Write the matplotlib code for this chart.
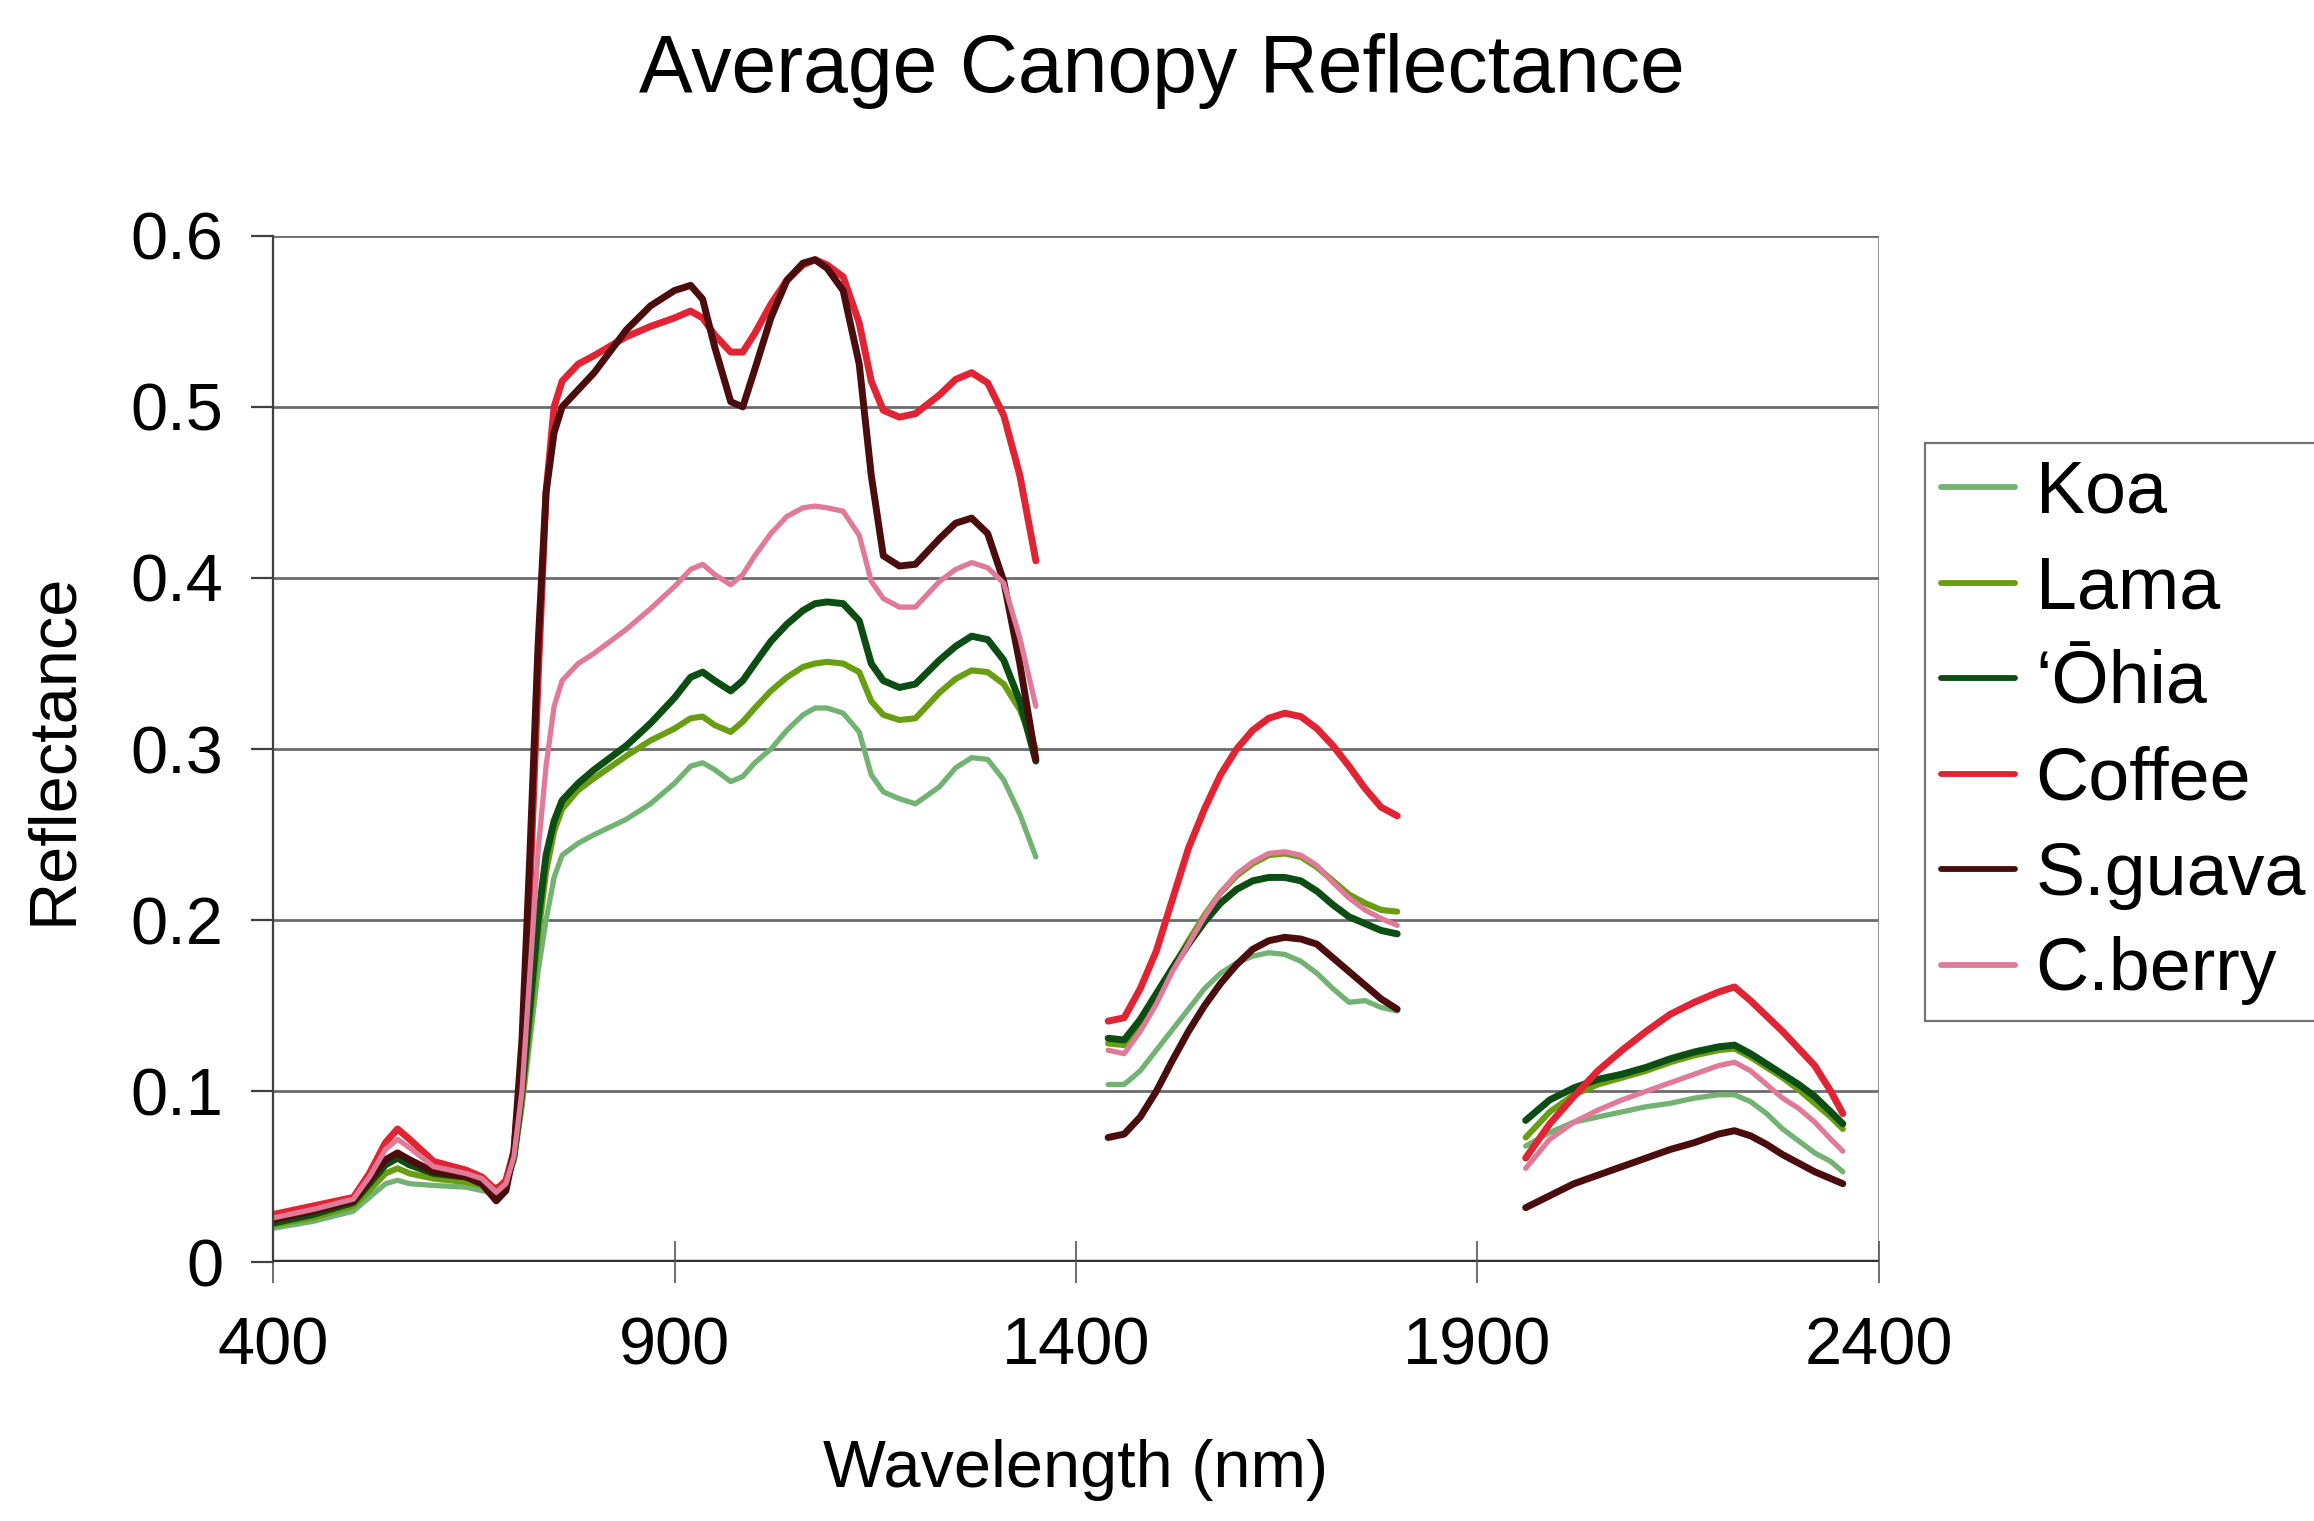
import matplotlib
matplotlib.use("Agg")
import matplotlib.pyplot as plt

plt.rcParams['font.family'] = ['Liberation Sans', 'DejaVu Sans']

# ---- data ----
species = ["Koa", "Lama", "\u2018\u014chia", "Coffee", "S.guava", "C.berry"]
colors = ["#72b272", "#6a9e12", "#0b4d12", "#e02434", "#4a0c0c", "#e07a98"]

w1 = [400, 450, 500, 520, 540, 555, 570, 600, 640, 660, 678, 690, 700, 710, 720,
      730, 740, 750, 760, 780, 800, 840, 870, 900, 920, 935, 950, 970, 985, 1000,
      1020, 1040, 1060, 1075, 1090, 1110, 1130, 1145, 1160, 1180, 1200, 1230, 1250,
      1270, 1290, 1310, 1330, 1350]
w2 = [1440, 1460, 1480, 1500, 1520, 1540, 1560, 1580, 1600, 1620, 1640, 1660, 1680,
      1700, 1720, 1740, 1760, 1780, 1800]
w3 = [1960, 1990, 2020, 2050, 2080, 2110, 2140, 2170, 2200, 2220, 2240, 2260, 2280,
      2300, 2320, 2340, 2355]

koa_1 = [0.020, 0.024, 0.030, 0.038, 0.046, 0.048, 0.046, 0.045, 0.044, 0.042, 0.040,
         0.045, 0.060, 0.090, 0.130, 0.170, 0.200, 0.225, 0.238, 0.245, 0.250, 0.259,
         0.268, 0.280, 0.290, 0.292, 0.288, 0.281, 0.284, 0.292, 0.300, 0.311, 0.320,
         0.324, 0.324, 0.321, 0.310, 0.285, 0.275, 0.271, 0.268, 0.278, 0.289, 0.295,
         0.294, 0.282, 0.262, 0.237]
lama_1 = [0.022, 0.026, 0.033, 0.042, 0.052, 0.055, 0.052, 0.049, 0.047, 0.045, 0.042,
          0.046, 0.060, 0.095, 0.140, 0.190, 0.228, 0.252, 0.265, 0.276, 0.283, 0.296,
          0.305, 0.312, 0.318, 0.319, 0.314, 0.310, 0.316, 0.324, 0.334, 0.342, 0.348,
          0.350, 0.351, 0.350, 0.345, 0.328, 0.320, 0.317, 0.318, 0.333, 0.341, 0.346,
          0.345, 0.338, 0.323, 0.300]
ohia_1 = [0.023, 0.028, 0.035, 0.046, 0.057, 0.061, 0.057, 0.052, 0.050, 0.047, 0.043,
          0.047, 0.062, 0.100, 0.150, 0.200, 0.238, 0.258, 0.270, 0.280, 0.288, 0.302,
          0.315, 0.330, 0.342, 0.345, 0.340, 0.334, 0.340, 0.350, 0.363, 0.373, 0.381,
          0.385, 0.386, 0.385, 0.375, 0.350, 0.340, 0.336, 0.338, 0.352, 0.360, 0.366,
          0.364, 0.352, 0.328, 0.293]
coffee_1 = [0.028, 0.033, 0.038, 0.052, 0.070, 0.078, 0.072, 0.059, 0.054, 0.050, 0.042,
            0.048, 0.065, 0.120, 0.220, 0.340, 0.450, 0.500, 0.515, 0.525, 0.530, 0.541,
            0.547, 0.552, 0.556, 0.552, 0.542, 0.532, 0.532, 0.543, 0.560, 0.574, 0.583,
            0.586, 0.583, 0.576, 0.549, 0.515, 0.498, 0.494, 0.496, 0.507, 0.516, 0.520,
            0.514, 0.495, 0.460, 0.410]
guava_1 = [0.025, 0.030, 0.036, 0.048, 0.060, 0.064, 0.060, 0.053, 0.050, 0.046, 0.036,
           0.042, 0.065, 0.130, 0.240, 0.360, 0.450, 0.485, 0.500, 0.510, 0.520, 0.545,
           0.559, 0.568, 0.571, 0.563, 0.535, 0.503, 0.500, 0.522, 0.552, 0.574, 0.584,
           0.586, 0.581, 0.568, 0.525, 0.460, 0.413, 0.407, 0.408, 0.423, 0.432, 0.435,
           0.426, 0.398, 0.350, 0.294]
berry_1 = [0.026, 0.031, 0.037, 0.050, 0.066, 0.072, 0.067, 0.056, 0.052, 0.049, 0.041,
           0.046, 0.062, 0.100, 0.170, 0.240, 0.290, 0.325, 0.340, 0.350, 0.356, 0.370,
           0.382, 0.395, 0.405, 0.408, 0.402, 0.396, 0.402, 0.413, 0.426, 0.436, 0.441,
           0.442, 0.441, 0.439, 0.425, 0.398, 0.388, 0.383, 0.383, 0.398, 0.405, 0.409,
           0.406, 0.397, 0.365, 0.325]

koa_2 = [0.104, 0.104, 0.112, 0.124, 0.136, 0.148, 0.160, 0.169, 0.175, 0.179, 0.181,
         0.180, 0.176, 0.169, 0.160, 0.152, 0.153, 0.149, 0.147]
lama_2 = [0.128, 0.127, 0.139, 0.155, 0.172, 0.188, 0.203, 0.216, 0.226, 0.233, 0.238,
          0.239, 0.237, 0.231, 0.223, 0.215, 0.210, 0.206, 0.205]
ohia_2 = [0.131, 0.130, 0.142, 0.157, 0.172, 0.186, 0.199, 0.210, 0.218, 0.223, 0.225,
          0.225, 0.223, 0.217, 0.209, 0.202, 0.198, 0.194, 0.192]
coffee_2 = [0.141, 0.143, 0.160, 0.182, 0.212, 0.242, 0.265, 0.285, 0.300, 0.311, 0.318,
            0.321, 0.319, 0.312, 0.302, 0.290, 0.277, 0.266, 0.261]
guava_2 = [0.073, 0.075, 0.085, 0.100, 0.118, 0.135, 0.150, 0.163, 0.174, 0.183, 0.188,
           0.190, 0.189, 0.186, 0.178, 0.170, 0.162, 0.154, 0.148]
berry_2 = [0.124, 0.122, 0.135, 0.151, 0.170, 0.186, 0.202, 0.216, 0.227, 0.234, 0.239,
           0.240, 0.238, 0.232, 0.222, 0.213, 0.206, 0.201, 0.197]

koa_3 = [0.068, 0.076, 0.082, 0.085, 0.088, 0.091, 0.093, 0.096, 0.098, 0.098, 0.094,
         0.087, 0.078, 0.071, 0.064, 0.059, 0.053]
lama_3 = [0.073, 0.088, 0.098, 0.104, 0.108, 0.112, 0.117, 0.121, 0.124, 0.125, 0.120,
          0.114, 0.108, 0.101, 0.093, 0.085, 0.078]
ohia_3 = [0.083, 0.095, 0.102, 0.107, 0.110, 0.114, 0.119, 0.123, 0.126, 0.127, 0.122,
          0.116, 0.110, 0.104, 0.097, 0.088, 0.081]
coffee_3 = [0.061, 0.081, 0.097, 0.112, 0.124, 0.135, 0.145, 0.152, 0.158, 0.161, 0.153,
            0.144, 0.135, 0.125, 0.115, 0.100, 0.087]
guava_3 = [0.032, 0.039, 0.046, 0.051, 0.056, 0.061, 0.066, 0.070, 0.075, 0.077, 0.074,
           0.069, 0.063, 0.058, 0.053, 0.049, 0.046]
berry_3 = [0.055, 0.072, 0.082, 0.089, 0.095, 0.100, 0.105, 0.110, 0.115, 0.117, 0.112,
           0.104, 0.096, 0.090, 0.082, 0.072, 0.065]

segments = [
    (koa_1, koa_2, koa_3),
    (lama_1, lama_2, lama_3),
    (ohia_1, ohia_2, ohia_3),
    (coffee_1, coffee_2, coffee_3),
    (guava_1, guava_2, guava_3),
    (berry_1, berry_2, berry_3),
]
widths = [3.8, 4.4, 5.0, 5.0, 5.0, 3.8]

x_ticks = [400, 900, 1400, 1900, 2400]
y_ticks = [0, 0.1, 0.2, 0.3, 0.4, 0.5, 0.6]
y_tick_labels = ["0", "0.1", "0.2", "0.3", "0.4", "0.5", "0.6"]

# ---- figure ----
fig = plt.figure(figsize=(23.14, 15.21), dpi=100)
ax = fig.add_axes([0.118, 0.170, 0.694, 0.675])

for (s1, s2, s3), name, c, lw in zip(segments, species, colors, widths):
    ax.plot(w1, s1, color=c, lw=lw, label=name, solid_joinstyle='round',
            solid_capstyle='round')
    ax.plot(w2, s2, color=c, lw=lw, solid_joinstyle='round', solid_capstyle='round')
    ax.plot(w3, s3, color=c, lw=lw, solid_joinstyle='round', solid_capstyle='round')

ax.set_xlim(400, 2400)
ax.set_ylim(0, 0.6)
ax.set_xticks(x_ticks)
ax.set_yticks(y_ticks)
ax.set_yticklabels(y_tick_labels)

for y in y_ticks[1:]:
    ax.axhline(y, color="#6a6a70", lw=2.0, zorder=0)
ax.axhline(0, color="#303030", lw=3.2, zorder=0.5)

for side in ["top", "right", "bottom"]:
    ax.spines[side].set_visible(False)
ax.spines["left"].set_color("#404040")
ax.spines["left"].set_linewidth(1.6)
ax.axvline(2400, color="#808080", lw=1.2, zorder=0)

ax.tick_params(axis="x", direction="inout", length=30, width=1.2, color="#555555",
               labelsize=48, pad=24)
ax.tick_params(axis="y", direction="out", length=16, width=1.6, color="#404040",
               labelsize=48, pad=20)

ax.set_xlabel("Wavelength (nm)", fontsize=48)
ax.xaxis.set_label_coords(0.50, -0.172)
ax.set_ylabel("Reflectance", fontsize=48)
ax.yaxis.set_label_coords(-0.117, 0.5)

fig.text(0.502, 0.953, "Average Canopy Reflectance", ha="center", va="center",
         fontsize=58)

leg = fig.legend(loc="upper left", bbox_to_anchor=(0.832, 0.709), fontsize=53,
                 handlelength=1.0, handletextpad=0.28, labelspacing=0.36,
                 borderpad=0.22, borderaxespad=0.0, frameon=True, fancybox=False)
leg.get_frame().set_edgecolor("#505050")
leg.get_frame().set_linewidth(1.6)
for h in leg.get_lines():
    h.set_linewidth(4.2)

fig.savefig("out.png", dpi=100, facecolor="white")
